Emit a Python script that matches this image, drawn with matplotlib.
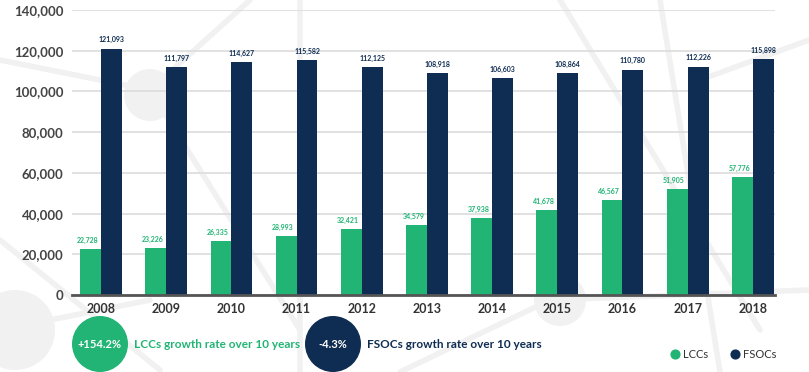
import numpy as np
import matplotlib.pyplot as plt
from matplotlib.patches import Circle

years = ['2008', '2009', '2010', '2011', '2012', '2013', '2014', '2015', '2016', '2017', '2018']
lccs = [22728, 23226, 26335, 28993, 32421, 34579, 37938, 41678, 46567, 51905, 57776]
fsocs = [121093, 111797, 114627, 115582, 112125, 108918, 106603, 108864, 110780, 112226, 115898]
yticks = [0, 20000, 40000, 60000, 80000, 100000, 120000, 140000]

green = '#22b474'
navy = '#0f2d52'

plt.rcParams['font.family'] = ['Lato', 'DejaVu Sans']

fig = plt.figure(figsize=(8.09, 3.72), dpi=100)
fig.patch.set_facecolor('white')

# faint network decoration in the background
bg = fig.add_axes([0, 0, 1, 1], zorder=0)
bg.set_xlim(0, 809)
bg.set_ylim(372, 0)
bg.axis('off')
deco = '#f1f1f1'
for (x0, y0, x1, y1) in [(0, 240, 160, 370), (0, 60, 150, 90), (150, 90, 250, 0),
                         (150, 90, 300, 330), (300, 0, 300, 372), (560, 0, 760, 330),
                         (660, 0, 720, 372), (0, 330, 150, 300), (400, 372, 550, 300),
                         (550, 300, 809, 290), (700, 80, 809, 40)]:
    bg.plot([x0, x1], [y0, y1], color=deco, lw=4, solid_capstyle='round')
for (cx, cy, r) in [(150, 95, 26), (15, 330, 40), (560, 300, 26)]:
    bg.add_patch(Circle((cx, cy), r, color=deco, lw=0))

ax = fig.add_axes([0.089, 0.207, 0.869, 0.766], zorder=1)
ax.patch.set_alpha(0)
x = np.arange(len(years))
w = 0.32
ax.bar(x - w / 2, lccs, w, color=green, zorder=3, linewidth=0)
ax.bar(x + w / 2, fsocs, w, color=navy, zorder=3, linewidth=0)

for i in range(len(years)):
    ax.text(x[i] - w / 2 - 0.05, lccs[i] + 2500, f'{lccs[i]:,}', ha='center', va='bottom',
            fontsize=5, fontweight='bold', color=green)
    ax.text(x[i] + w / 2, fsocs[i] + 2500, f'{fsocs[i]:,}', ha='center', va='bottom',
            fontsize=5, fontweight='bold', color=navy)

ax.set_xlim(-0.445, 10.34)
ax.set_ylim(0, 140000)
ax.set_yticks(yticks)
ax.set_yticklabels([f'{v:,}' for v in yticks], fontsize=9.5, fontweight='bold', color='#444444')
ax.set_xticks(x)
ax.set_xticklabels(years, fontsize=9, fontweight='bold', color='#333333')
ax.tick_params(axis='both', length=0, pad=6)
ax.grid(axis='y', color='#dcdcdc', lw=1.2, zorder=0)
for s in ['top', 'right', 'left']:
    ax.spines[s].set_visible(False)
ax.spines['bottom'].set_color('#555555')
ax.spines['bottom'].set_linewidth(2)
ax.spines['bottom'].set_zorder(4)

# growth badges
bg.add_patch(Circle((100, 344), 28, color=green, lw=0, zorder=5))
bg.text(100, 345, '+154.2%', ha='center', va='center', fontsize=8, fontweight='bold', color='white', zorder=6)
bg.text(134, 345, 'LCCs growth rate over 10 years', ha='left', va='center', fontsize=8.5,
        fontweight='bold', color=green, zorder=6)
bg.add_patch(Circle((333, 344), 28, color=navy, lw=0, zorder=5))
bg.text(333, 345, '-4.3%', ha='center', va='center', fontsize=8, fontweight='bold', color='white', zorder=6)
bg.text(367, 345, 'FSOCs growth rate over 10 years', ha='left', va='center', fontsize=8.5,
        fontweight='bold', color=navy, zorder=6)

# legend
bg.scatter([675], [354], s=40, color=green, zorder=6)
bg.text(683, 354, 'LCCs', ha='left', va='center', fontsize=8, color='#333333', zorder=6)
bg.scatter([735], [354], s=40, color=navy, zorder=6)
bg.text(743, 354, 'FSOCs', ha='left', va='center', fontsize=8, color='#333333', zorder=6)

fig.savefig('out.png', dpi=100)
